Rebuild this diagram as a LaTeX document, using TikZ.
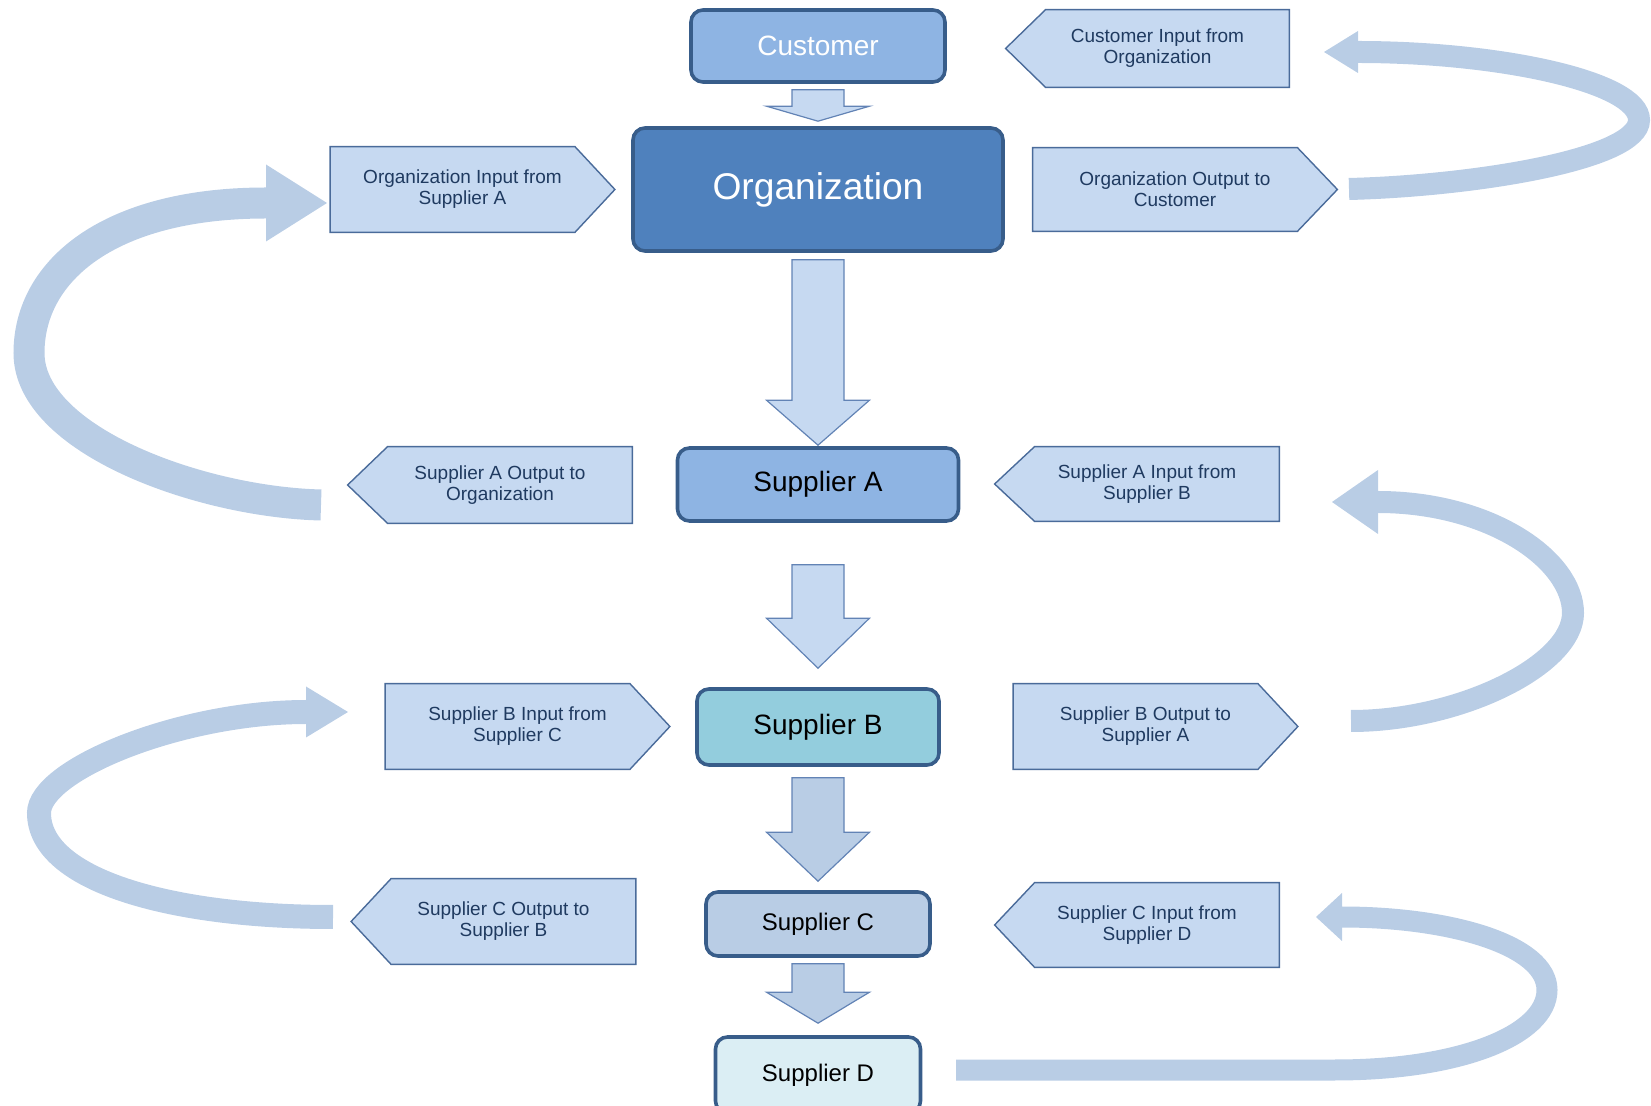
\documentclass[tikz,border=0pt]{standalone}
\usepackage{fontspec}
\setmainfont{Liberation Sans}
\usetikzlibrary{backgrounds}

\definecolor{boxline}{HTML}{385D8A}
\definecolor{custfill}{HTML}{8EB4E3}
\definecolor{orgfill}{HTML}{4F81BD}
\definecolor{bfill}{HTML}{93CDDD}
\definecolor{cfill}{HTML}{B9CDE5}
\definecolor{dfill}{HTML}{DBEEF4}
\definecolor{tagfill}{HTML}{C6D9F1}
\definecolor{tagline}{HTML}{4A6B9A}
\definecolor{tagtext}{HTML}{1F3A60}
\definecolor{bandblue}{HTML}{B9CDE5}
\definecolor{flowline}{HTML}{6283B5}

\tikzset{
  box/.style={draw=boxline, line width=1.8pt, rounded corners=6pt, align=center, inner sep=0pt},
  tag/.style={text=tagtext, font=\fontsize{9.5}{10.5}\selectfont, align=center,
    minimum width=132pt, minimum height=42.5pt, inner sep=0pt},
  tagshape/.style={fill=tagfill, draw=tagline, line width=0.7pt},
  flowedge/.style={draw=flowline, line width=0.6pt, line join=miter},
  band/.style={draw=bandblue}
}

% label with its point to the left / to the right
\newcommand{\tagleft}[1]{%
  \filldraw[tagshape] ([xshift=10pt]#1.north west) -- (#1.north east) -- (#1.south east)
    -- ([xshift=10pt]#1.south west) -- ([xshift=-10pt]#1.west) -- cycle;}
\newcommand{\tagright}[1]{%
  \filldraw[tagshape] (#1.north west) -- ([xshift=-10pt]#1.north east) -- ([xshift=10pt]#1.east)
    -- ([xshift=-10pt]#1.south east) -- (#1.south west) -- cycle;}
% block arrow going down from #1 to #2
\newcommand{\blockflow}[6]{%
  \filldraw[flowedge, fill=#6]
    ([xshift=-13pt,yshift=-#3]#1.south) -- ([xshift=13pt,yshift=-#3]#1.south)
    -- ([xshift=13pt,yshift=#4+#5]#2.north) -- ([xshift=25.75pt,yshift=#4+#5]#2.north)
    -- ([yshift=#4]#2.north) -- ([xshift=-25.75pt,yshift=#4+#5]#2.north)
    -- ([xshift=-13pt,yshift=#4+#5]#2.north) -- cycle;}

\begin{document}
\begin{tikzpicture}[x=0.5pt, y=-0.5pt]
  \useasboundingbox (0,0) rectangle (1651,1106);

  % main column
  \node[box, fill=custfill, text=white, font=\fontsize{14}{16}\selectfont,
    minimum width=127pt, minimum height=36pt] (cust) at (818,46) {Customer};
  \node[box, fill=orgfill, text=white, font=\fontsize{18.6}{20}\selectfont,
    minimum width=185pt, minimum height=61.5pt] (org) at (818,189.5) {Organization};
  \node[box, fill=custfill, font=\fontsize{14}{16}\selectfont,
    minimum width=140.5pt, minimum height=36.5pt] (supa) at (818,484.5) {Supplier A};
  \node[box, fill=bfill, font=\fontsize{14}{16}\selectfont,
    minimum width=121pt, minimum height=38pt] (supb) at (818,727) {Supplier B};
  \node[box, fill=cfill, font=\fontsize{12}{14}\selectfont,
    minimum width=112pt, minimum height=32pt] (supc) at (818,924) {Supplier C};
  \node[box, fill=dfill, font=\fontsize{12}{14}\selectfont,
    minimum width=102.5pt, minimum height=38pt] (supd) at (818,1075) {Supplier D};

  % labels
  \node[tag, minimum width=131.5pt, minimum height=38.5pt] (custin) at (1157.5,48.5) {Customer Input from\\Organization};
  \node[tag, minimum width=142pt, minimum height=41.5pt] (orgout) at (1175,189.5) {Organization Output to\\Customer};
  \node[tag] (orgin) at (462.5,189.5) {Organization Input from\\Supplier A};
  \node[tag, minimum height=38pt] (supaout) at (500,485) {Supplier A Output to\\Organization};
  \node[tag, minimum height=37pt] (supain) at (1147,484) {Supplier A Input from\\Supplier B};
  \node[tag] (supbout) at (1145.5,726.5) {Supplier B Output to\\Supplier A};
  \node[tag] (supbin) at (517.5,726.5) {Supplier B Input from\\Supplier C};
  \node[tag] (supcout) at (503.5,921.5) {Supplier C Output to\\Supplier B};
  \node[tag, minimum height=42pt] (supcin) at (1147,925) {Supplier C Input from\\Supplier D};

  \begin{scope}[on background layer]
    \tagleft{custin}
    \tagright{orgout}
    \tagright{orgin}
    \tagleft{supaout}
    \tagleft{supain}
    \tagright{supbout}
    \tagright{supbin}
    \tagleft{supcout}
    \tagleft{supcin}
  \end{scope}

  % flow down the chain
  \blockflow{cust}{org}{3pt}{2.5pt}{7.5pt}{tagfill}
  \blockflow{org}{supa}{3.5pt}{0.5pt}{22.5pt}{tagfill}
  \blockflow{supa}{supb}{21pt}{9.5pt}{25pt}{tagfill}
  \blockflow{supb}{supc}{5.5pt}{4.5pt}{24.5pt}{cfill}
  \blockflow{supc}{supd}{3pt}{6pt}{15.5pt}{cfill}

  % loops from output to input
  \coordinate (t1) at (1349,189);
  \coordinate (b1) at (1358,52);
  \coordinate (h1) at (1324,52);
  \coordinate (t2) at (321,505);
  \coordinate (b2) at (266,203);
  \coordinate (h2) at (327,203);
  \coordinate (t3) at (1351,721);
  \coordinate (b3) at (1378,502);
  \coordinate (h3) at (1332,502);
  \coordinate (t4) at (333,917);
  \coordinate (b4) at (306,712);
  \coordinate (h4) at (348,712);
  \coordinate (t5) at (956,1070);
  \coordinate (b5) at (1342,917);
  \coordinate (h5) at (1316,917);

  \draw[band, line width=11pt] (t1) .. controls (1470,186) and (1639,160) .. (1639,120)
    .. controls (1639,82) and (1500,52) .. (b1);
  \fill[bandblue] ([yshift=10.5pt]b1) -- (h1) -- ([yshift=-10.5pt]b1) -- cycle;

  \draw[band, line width=15.5pt] (t2) .. controls (200,502) and (29,440) .. (29,353)
    .. controls (29,270) and (110,203) .. (b2);
  \fill[bandblue] ([yshift=19.25pt]b2) -- (h2) -- ([yshift=-19.25pt]b2) -- cycle;

  \draw[band, line width=11pt] (t3) .. controls (1460,721) and (1573,665) .. (1573,613)
    .. controls (1573,560) and (1490,502) .. (b3);
  \fill[bandblue] ([yshift=16pt]b3) -- (h3) -- ([yshift=-16pt]b3) -- cycle;

  \draw[band, line width=12pt] (t4) .. controls (170,917) and (39,880) .. (39,813)
    .. controls (39,770) and (180,712) .. (b4);
  \fill[bandblue] ([yshift=12.75pt]b4) -- (h4) -- ([yshift=-12.75pt]b4) -- cycle;

  \draw[band, line width=10.5pt] (t5) -- (1335,1070) .. controls (1460,1070) and (1547,1035) .. (1547,990)
    .. controls (1547,945) and (1450,917) .. (b5);
  \fill[bandblue] ([yshift=12pt]b5) -- (h5) -- ([yshift=-12pt]b5) -- cycle;
\end{tikzpicture}
\end{document}
